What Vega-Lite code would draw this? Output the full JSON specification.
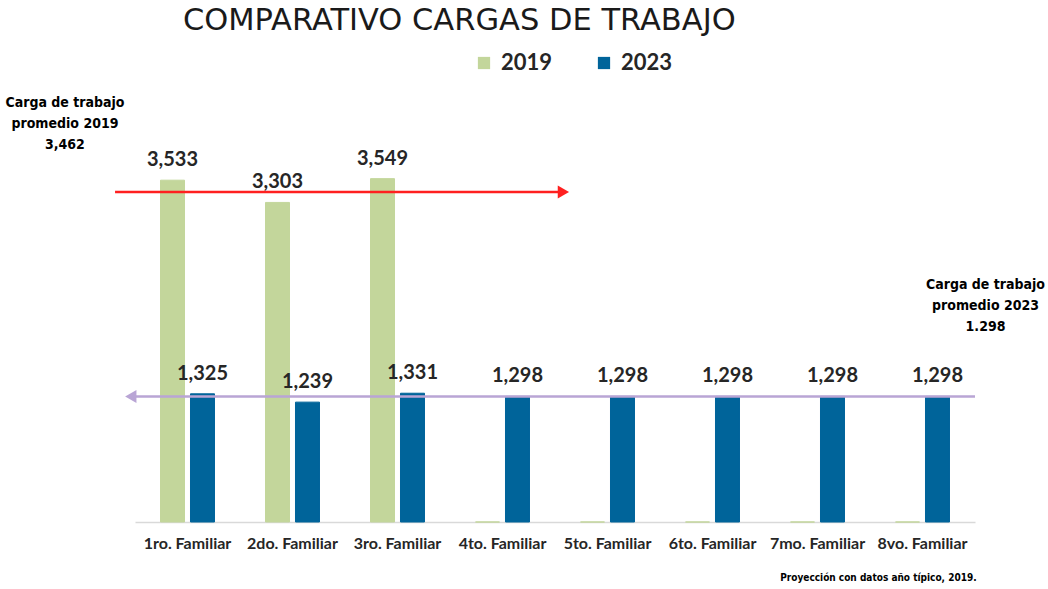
{
  "$schema": "https://vega.github.io/schema/vega-lite/v6.json",
  "width": 840,
  "height": 387,
  "autosize": "none",
  "padding": {"left": 135, "top": 135, "right": 73, "bottom": 67},
  "background": "white",
  "config": {"view": {"stroke": null}},
  "title": {
    "text": "COMPARATIVO CARGAS DE TRABAJO",
    "anchor": "start",
    "frame": "group",
    "dx": 48,
    "offset": -8,
    "baseline": "alphabetic",
    "font": "DejaVu Sans",
    "fontSize": 30.5,
    "fontWeight": "normal",
    "color": "#1a1a1a"
  },
  "datasets": {
    "bars": [
      {"cat": "1ro. Familiar", "year": "2019", "value": 3533},
      {"cat": "1ro. Familiar", "year": "2023", "value": 1325},
      {"cat": "2do. Familiar", "year": "2019", "value": 3303},
      {"cat": "2do. Familiar", "year": "2023", "value": 1239},
      {"cat": "3ro. Familiar", "year": "2019", "value": 3549},
      {"cat": "3ro. Familiar", "year": "2023", "value": 1331},
      {"cat": "4to. Familiar", "year": "2019", "value": 0},
      {"cat": "4to. Familiar", "year": "2023", "value": 1298},
      {"cat": "5to. Familiar", "year": "2019", "value": 0},
      {"cat": "5to. Familiar", "year": "2023", "value": 1298},
      {"cat": "6to. Familiar", "year": "2019", "value": 0},
      {"cat": "6to. Familiar", "year": "2023", "value": 1298},
      {"cat": "7mo. Familiar", "year": "2019", "value": 0},
      {"cat": "7mo. Familiar", "year": "2023", "value": 1298},
      {"cat": "8vo. Familiar", "year": "2019", "value": 0},
      {"cat": "8vo. Familiar", "year": "2023", "value": 1298}
    ],
    "lines": [
      {"serie": "prom2019", "y": 3410, "x": -0.19, "x2": 4.05},
      {"serie": "prom2023", "y": 1298, "x": -0.02, "x2": 8.0}
    ],
    "heads": [
      {"serie": "prom2019", "y": 3410, "x": 4.08, "shape": "triangle-right"},
      {"serie": "prom2023", "y": 1298, "x": -0.04, "shape": "triangle-left"}
    ],
    "notes": [
      {"text": "Carga de trabajo\npromedio 2019\n3,462", "x": -0.667, "y": 4331},
      {"text": "Carga de trabajo\npromedio 2023\n1.298", "x": 8.1, "y": 2450}
    ],
    "foot": [
      {"text": "Proyección con datos año típico, 2019.", "x": 7.08, "y": -579}
    ]
  },
  "resolve": {"scale": {"x": "independent", "color": "independent"}},
  "layer": [
    {
      "data": {"name": "bars"},
      "mark": {"type": "bar", "strokeWidth": 1},
      "encoding": {
        "x": {
          "field": "cat", "type": "nominal", "sort": null,
          "scale": {"paddingInner": 0.486, "paddingOuter": 0.243},
          "axis": {
            "title": null, "ticks": false, "labelAngle": 0,
            "labelFont": "Lato", "labelFontSize": 16, "labelFontWeight": "bold",
            "labelColor": "#262626", "labelPadding": 13,
            "domainColor": "#d9d9d9", "domainWidth": 1.5
          }
        },
        "xOffset": {"field": "year", "type": "nominal", "scale": {"paddingInner": 0.2}},
        "y": {"field": "value", "type": "quantitative", "scale": {"domain": [0, 4000]}, "axis": null},
        "color": {
          "field": "year", "type": "nominal",
          "scale": {"domain": ["2019", "2023"], "range": ["#C3D69B", "#00649A"]},
          "legend": {
            "title": null, "orient": "none", "direction": "horizontal",
            "legendX": 338, "legendY": -83,
            "symbolType": "square", "symbolSize": 150, "symbolStrokeWidth": 0,
            "labelFont": "Lato", "labelFontSize": 22, "labelFontWeight": "bold",
            "labelColor": "#262626", "labelOffset": 6, "columnPadding": 40
          }
        },
        "stroke": {
          "field": "year", "type": "nominal",
          "scale": {"domain": ["2019", "2023"], "range": ["#C3D69B", "#00649A"]},
          "legend": null
        }
      }
    },
    {
      "data": {"name": "bars"},
      "transform": [{"filter": "datum.value > 0"}],
      "mark": {"type": "text", "baseline": "alphabetic", "dy": -14, "font": "Lato", "fontSize": 20, "fontWeight": "bold", "color": "#262626"},
      "encoding": {
        "x": {"field": "cat", "type": "nominal", "sort": null, "scale": {"paddingInner": 0.486, "paddingOuter": 0.243}, "axis": null},
        "xOffset": {"field": "year", "type": "nominal", "scale": {"paddingInner": 0.2}},
        "y": {"field": "value", "type": "quantitative", "scale": {"domain": [0, 4000]}, "axis": null},
        "text": {"field": "value", "type": "quantitative", "format": ","}
      }
    },
    {
      "data": {"name": "lines"},
      "mark": {"type": "rule", "strokeWidth": 2.5},
      "encoding": {
        "x": {"field": "x", "type": "quantitative", "scale": {"domain": [0, 8], "nice": false, "zero": false}, "axis": null},
        "x2": {"field": "x2"},
        "y": {"field": "y", "type": "quantitative", "scale": {"domain": [0, 4000]}, "axis": null},
        "color": {"field": "serie", "type": "nominal", "scale": {"domain": ["prom2019", "prom2023"], "range": ["#FF2020", "#B9A5D5"]}, "legend": null}
      }
    },
    {
      "data": {"name": "heads"},
      "mark": {"type": "point", "filled": true, "size": 170, "opacity": 1},
      "encoding": {
        "x": {"field": "x", "type": "quantitative", "scale": {"domain": [0, 8], "nice": false, "zero": false}, "axis": null},
        "y": {"field": "y", "type": "quantitative", "scale": {"domain": [0, 4000]}, "axis": null},
        "shape": {"field": "shape", "type": "nominal", "scale": null, "legend": null},
        "color": {"field": "serie", "type": "nominal", "scale": {"domain": ["prom2019", "prom2023"], "range": ["#FF2020", "#B9A5D5"]}, "legend": null}
      }
    },
    {
      "data": {"name": "notes"},
      "mark": {"type": "text", "lineBreak": "\n", "lineHeight": 21, "baseline": "middle", "align": "center", "font": "DejaVu Sans Condensed", "fontSize": 14, "fontWeight": "bold", "color": "#000000"},
      "encoding": {
        "x": {"field": "x", "type": "quantitative", "scale": {"domain": [0, 8], "nice": false, "zero": false}, "axis": null},
        "y": {"field": "y", "type": "quantitative", "scale": {"domain": [0, 4000]}, "axis": null},
        "text": {"field": "text", "type": "nominal"}
      }
    },
    {
      "data": {"name": "foot"},
      "mark": {"type": "text", "baseline": "middle", "align": "center", "font": "DejaVu Sans Condensed", "fontSize": 10, "fontWeight": "bold", "color": "#000000"},
      "encoding": {
        "x": {"field": "x", "type": "quantitative", "scale": {"domain": [0, 8], "nice": false, "zero": false}, "axis": null},
        "y": {"field": "y", "type": "quantitative", "scale": {"domain": [0, 4000]}, "axis": null},
        "text": {"field": "text", "type": "nominal"}
      }
    }
  ]
}
